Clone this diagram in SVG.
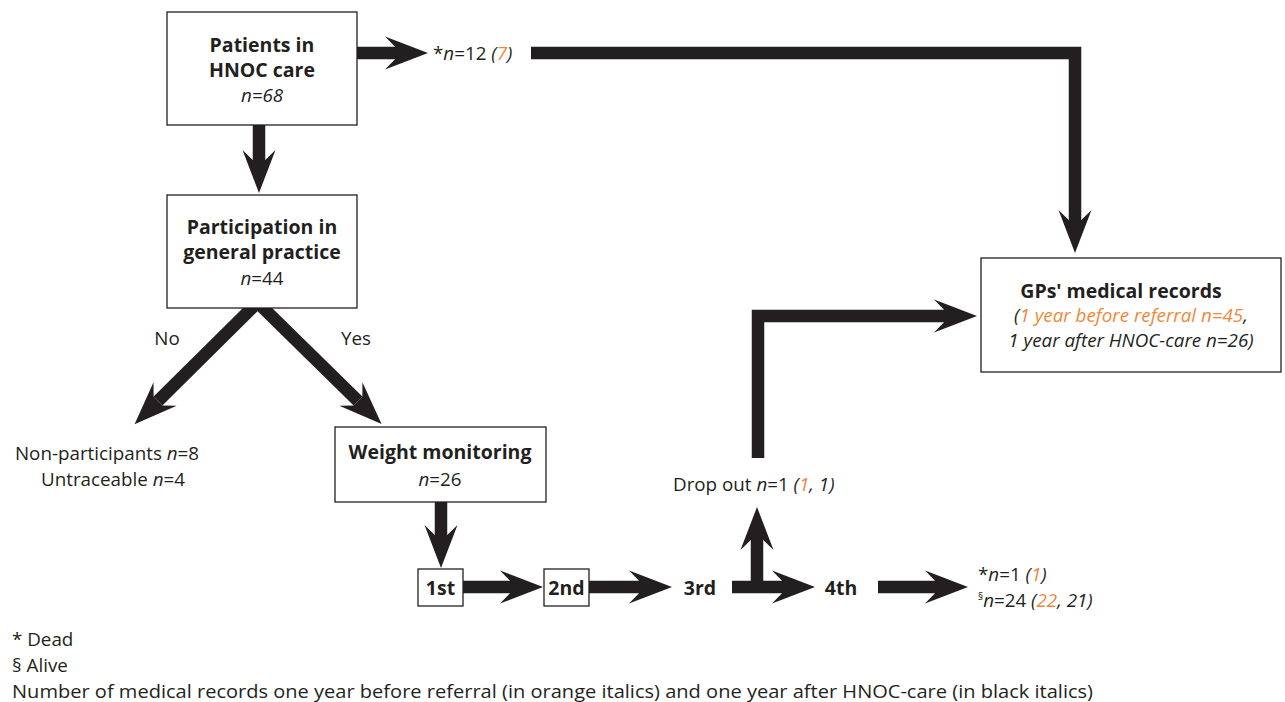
<svg xmlns="http://www.w3.org/2000/svg" width="1285" height="702" viewBox="0 0 1285 702">
<style>
text{font-family:"Open Sans","Liberation Sans",sans-serif;fill:#231f20;font-size:18.8px}
.b{font-weight:bold;font-size:19.5px}
.i{font-style:italic}
.o{fill:#f0883a}
.box{fill:#fff;stroke:#231f20;stroke-width:1.3}
.c{fill:none;stroke:#231f20;stroke-width:12.5;stroke-linejoin:miter}
.m{text-anchor:middle}
</style>
<defs>
<marker id="ah" markerUnits="userSpaceOnUse" viewBox="-15 -20 50 40" markerWidth="50" markerHeight="40" refX="0" refY="0" orient="auto" overflow="visible">
<path d="M33,0 L-10,-16.5 L0,-6.25 L0,6.25 L-10,16.5 Z" fill="#231f20"/>
</marker>
</defs>
<g id="connectors">
<path class="c" d="M350,53 H395" marker-end="url(#ah)"/>
<path class="c" d="M531,53 H1075 V220" marker-end="url(#ah)"/>
<path class="c" d="M259,120 V160" marker-end="url(#ah)"/>
<path class="c" d="M260,300 L158,401" marker-end="url(#ah)"/>
<path class="c" d="M255,300 L358,401" marker-end="url(#ah)"/>
<path class="c" d="M441,500 V535" marker-end="url(#ah)"/>
<path class="c" d="M460,587 H510" marker-end="url(#ah)"/>
<path class="c" d="M586,587 H639" marker-end="url(#ah)"/>
<path class="c" d="M732,587 H782" marker-end="url(#ah)"/>
<path class="c" d="M757,593 V540" marker-end="url(#ah)"/>
<path class="c" d="M878,587 H935" marker-end="url(#ah)"/>
<path class="c" d="M758,458 V316 H944" marker-end="url(#ah)"/>
</g>
<g id="n-patients">
<rect class="box" x="167" y="12" width="190" height="113"/>
<text class="b m" x="262" y="52">Patients in</text>
<text class="b m" x="262" y="77">HNOC care</text>
<text class="i m" x="262" y="102">n=68</text>
</g>
<g id="n-dead-top">
<text x="433" y="60">*<tspan class="i">n</tspan>=12 <tspan class="i">(<tspan class="o">7</tspan>)</tspan></text>
</g>
<g id="n-participation">
<rect class="box" x="167" y="195" width="190" height="113"/>
<text class="b m" x="262" y="234">Participation in</text>
<text class="b m" x="262" y="259">general practice</text>
<text class="m" x="262" y="285"><tspan class="i">n</tspan>=44</text>
</g>
<g id="labels">
<text class="m" x="167" y="345">No</text>
<text class="m" x="356" y="345">Yes</text>
</g>
<g id="n-nonpart">
<text class="m" x="107" y="460">Non-participants <tspan class="i">n</tspan>=8</text>
<text class="m" x="113" y="486">Untraceable <tspan class="i">n</tspan>=4</text>
</g>
<g id="n-weight">
<rect class="box" x="335" y="427" width="211" height="75"/>
<text class="b m" x="440" y="459">Weight monitoring</text>
<text class="m" x="440" y="486"><tspan class="i">n</tspan>=26</text>
</g>
<g id="n-1st">
<rect class="box" x="418" y="569" width="45" height="37"/>
<text class="b m" x="440.5" y="595">1st</text>
</g>
<g id="n-2nd">
<rect class="box" x="544" y="569" width="45" height="37"/>
<text class="b m" x="566.5" y="595">2nd</text>
</g>
<g id="n-3rd"><text class="b m" x="700" y="595">3rd</text></g>
<g id="n-4th"><text class="b m" x="841" y="595">4th</text></g>
<g id="n-dropout">
<text x="673" y="491">Drop out <tspan class="i">n</tspan>=1 <tspan class="i">(<tspan class="o">1</tspan>, 1)</tspan></text>
</g>
<g id="n-final">
<text x="978" y="581">*<tspan class="i">n</tspan>=1 <tspan class="i">(<tspan class="o">1</tspan>)</tspan></text>
<text x="978" y="607"><tspan font-size="10" dy="-7">§</tspan><tspan class="i" dy="7">n</tspan>=24 <tspan class="i">(<tspan class="o">22</tspan>, 21)</tspan></text>
</g>
<g id="n-gp">
<rect class="box" x="981" y="258" width="300" height="114"/>
<text class="b m" x="1121" y="298">GPs' medical records</text>
<text class="i m" x="1131" y="322">(<tspan class="o">1 year before referral n=45</tspan>,</text>
<text class="i m" x="1131" y="347">1 year after HNOC-care n=26)</text>
</g>
<g id="footer">
<text x="12" y="646">* Dead</text>
<text x="12" y="672">§ Alive</text>
<text x="12" y="698" textLength="1081" lengthAdjust="spacingAndGlyphs">Number of medical records one year before referral (in orange italics) and one year after HNOC-care (in black italics)</text>
</g>
</svg>
